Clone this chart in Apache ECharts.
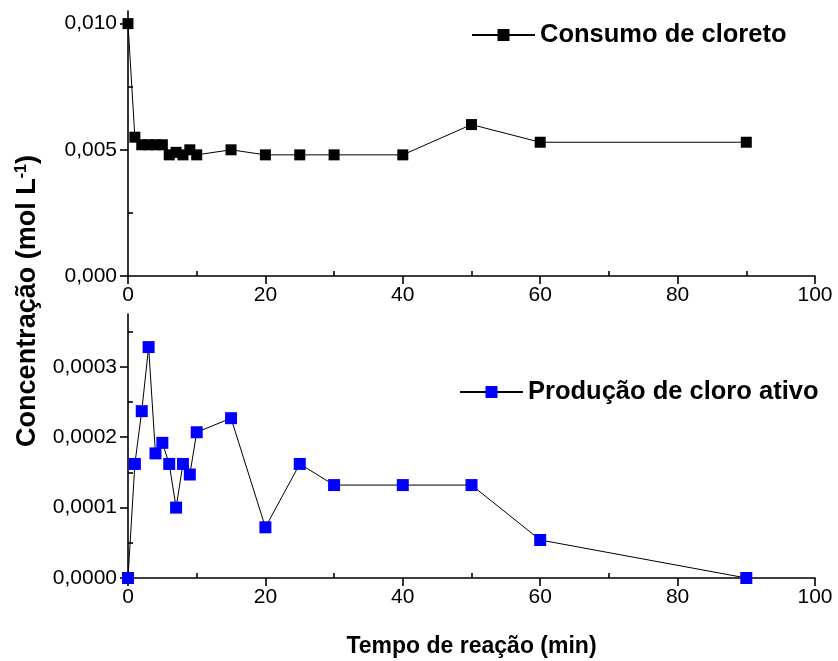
<!DOCTYPE html>
<html>
<head>
<meta charset="utf-8">
<script src="https://cdn.jsdelivr.net/npm/echarts@6/dist/echarts.min.js"></script>
<style>
  html, body { margin: 0; padding: 0; background: #fff; }
  #chart { width: 838px; height: 661px; }
</style>
</head>
<body>
<div id="chart"></div>
<script>
// Reaction time (min)
const tempo = [0, 1, 2, 3, 4, 5, 6, 7, 8, 9, 10, 15, 20, 25, 30, 40, 50, 60, 90];
// Chloride consumption (mol/L)
const cloreto = [0.0100, 0.0055, 0.0052, 0.0052, 0.0052, 0.0052, 0.0048, 0.0049, 0.0048, 0.0050,
                 0.0048, 0.0050, 0.0048, 0.0048, 0.0048, 0.0048, 0.0060, 0.0053, 0.0053];
// Active chlorine production (mol/L)
const cloroAtivo = [0, 0.000162, 0.000237, 0.000328, 0.000177, 0.000192, 0.000162, 0.000100, 0.000162, 0.000147,
                    0.000207, 0.000227, 0.000072, 0.000162, 0.000132, 0.000132, 0.000132, 0.000054, 0];

// Axis ticks and labels
const xMajor = [0, 20, 40, 60, 80, 100];
const xMinor = [10, 30, 50, 70, 90];
const topMajor = [0, 0.005, 0.010];
const topMinor = [0.0025, 0.0075];
const botMajor = [0, 0.0001, 0.0002, 0.0003];
const botMinor = [0.00005, 0.00015, 0.00025, 0.00035];

const FONT = 'Liberation Sans';
const grids = [
  { left: 128, right: 23, top: 11, height: 265 },
  { left: 128, right: 23, top: 314, height: 264 }
];

function xAxes(gridIndex) {
  const base = { type: 'value', gridIndex, min: 0, max: 100, splitLine: { show: false } };
  return [
    Object.assign({}, base, {
      axisLine: { show: true, lineStyle: { color: '#000', width: 1.6 } },
      axisTick: { show: true, inside: false, length: 8, customValues: xMajor, lineStyle: { color: '#000', width: 1.6 } },
      axisLabel: { show: true, customValues: xMajor, margin: 9, color: '#000', fontFamily: FONT, fontSize: 21 }
    }),
    Object.assign({}, base, {
      axisLine: { show: false },
      axisTick: { show: true, length: 5, customValues: xMinor, lineStyle: { color: '#000', width: 1.6 } },
      axisLabel: { show: false }
    })
  ];
}

function yAxes(gridIndex, max, major, minor, digits) {
  const base = { type: 'value', gridIndex, min: 0, max, splitLine: { show: false } };
  return [
    Object.assign({}, base, {
      axisLine: { show: true, lineStyle: { color: '#000', width: 1.6 } },
      axisTick: { show: true, length: 8, customValues: major, lineStyle: { color: '#000', width: 1.6 } },
      axisLabel: {
        show: true, customValues: major, margin: 11, color: '#000', fontFamily: FONT, fontSize: 21,
        formatter: v => v.toFixed(digits).replace('.', ',')
      }
    }),
    Object.assign({}, base, {
      axisLine: { show: false },
      axisTick: { show: true, length: 5, customValues: minor, lineStyle: { color: '#000', width: 1.6 } },
      axisLabel: { show: false }
    })
  ];
}

const xAxis = xAxes(0).concat(xAxes(1));
xAxis[2].name = 'Tempo de reação (min)';
xAxis[2].nameLocation = 'middle';
xAxis[2].nameGap = 57;
xAxis[2].nameTextStyle = { fontFamily: FONT, fontWeight: 'bold', fontSize: 23, color: '#000' };

const yAxis = yAxes(0, 0.0105, topMajor, topMinor, 3).concat(yAxes(1, 0.000375, botMajor, botMinor, 4));

const option = {
  animation: false,
  backgroundColor: '#fff',
  grid: grids,
  xAxis,
  yAxis,
  legend: [
    {
      data: ['Consumo de cloreto'],
      left: 466, top: 17,
      itemWidth: 63, itemHeight: 15, itemGap: 0,
      textStyle: { fontFamily: FONT, fontWeight: 'bold', fontSize: 25.5, color: '#000' }
    },
    {
      data: ['Produção de cloro ativo'],
      left: 454, top: 374,
      itemWidth: 63, itemHeight: 15, itemGap: 0,
      textStyle: { fontFamily: FONT, fontWeight: 'bold', fontSize: 25.5, color: '#000' }
    }
  ],
  graphic: [
    {
      type: 'text',
      x: 28, y: 301,
      rotation: Math.PI / 2,
      style: {
        text: 'Concentração (mol L{sup|-1})',
        fontFamily: FONT, fontWeight: 'bold', fontSize: 27, fill: '#000',
        align: 'center', verticalAlign: 'middle',
        rich: {
          sup: { fontFamily: FONT, fontWeight: 'bold', fontSize: 16, fill: '#000', verticalAlign: 'top', padding: [0, 0, 12, 0] }
        }
      }
    }
  ],
  series: [
    {
      name: 'Consumo de cloreto',
      type: 'line',
      xAxisIndex: 0, yAxisIndex: 0,
      data: tempo.map((t, i) => [t, cloreto[i]]),
      symbol: 'rect', symbolSize: 11,
      itemStyle: { color: '#000' },
      lineStyle: { color: '#000', width: 1 },
      clip: false
    },
    {
      name: 'Produção de cloro ativo',
      type: 'line',
      xAxisIndex: 2, yAxisIndex: 2,
      data: tempo.map((t, i) => [t, cloroAtivo[i]]),
      symbol: 'rect', symbolSize: 12,
      itemStyle: { color: '#0000ff' },
      lineStyle: { color: '#000', width: 1 },
      clip: false
    }
  ]
};

const chart = echarts.init(document.getElementById('chart'), null, { renderer: 'canvas' });
chart.setOption(option);
</script>
</body>
</html>
